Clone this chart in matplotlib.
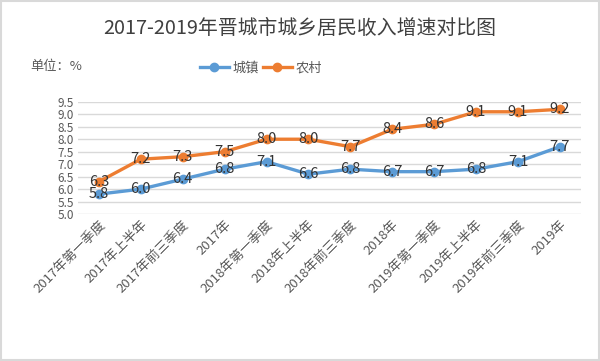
import matplotlib.pyplot as plt
from matplotlib.patches import Rectangle

plt.rcParams['font.family'] = ['Noto Sans CJK SC', 'DejaVu Sans']

periods = ['2017年第一季度', '2017年上半年', '2017年前三季度', '2017年',
           '2018年第一季度', '2018年上半年', '2018年前三季度', '2018年',
           '2019年第一季度', '2019年上半年', '2019年前三季度', '2019年']
urban = [5.8, 6.0, 6.4, 6.8, 7.1, 6.6, 6.8, 6.7, 6.7, 6.8, 7.1, 7.7]
rural = [6.3, 7.2, 7.3, 7.5, 8.0, 8.0, 7.7, 8.4, 8.6, 9.1, 9.1, 9.2]
yticks = [5.0, 5.5, 6.0, 6.5, 7.0, 7.5, 8.0, 8.5, 9.0, 9.5]

blue = '#5B9BD5'
orange = '#ED7D31'

fig = plt.figure(figsize=(6, 3.61), dpi=100)
ax = fig.add_axes([0.13, 0.407, 0.838, 0.311])

x = list(range(len(periods)))
ax.plot(x, urban, color=blue, lw=2.4, marker='o', ms=6, label='城镇', zorder=3)
ax.plot(x, rural, color=orange, lw=2.4, marker='o', ms=6, label='农村', zorder=3)

# data labels sit centred on the points, as in the original
for xi, v in zip(x, urban):
    ax.text(xi, v, f'{v:.1f}', ha='center', va='center', fontsize=10.5,
            color='#333333', zorder=4)
for xi, v in zip(x, rural):
    ax.text(xi, v, f'{v:.1f}', ha='center', va='center', fontsize=10.5,
            color='#333333', zorder=4)

ax.set_xlim(-0.5, len(periods) - 0.5)
ax.set_ylim(5.0, 9.5)
ax.set_yticks(yticks)
ax.set_yticklabels([f'{t:.1f}' for t in yticks], fontsize=8.5, color='#595959')
ax.set_xticks(x)
ax.set_xticklabels(periods, rotation=45, ha='right', rotation_mode='anchor',
                   fontsize=9.5, color='#595959')
ax.tick_params(length=0, pad=3)
ax.grid(axis='y', color='#D9D9D9', lw=1)
for s in ax.spines.values():
    s.set_visible(False)

fig.text(0.5, 0.922, '2017-2019年晋城市城乡居民收入增速对比图', ha='center',
         va='center', fontsize=14.3, color='#404040')
fig.text(0.05, 0.815, '单位：%', ha='left', va='center', fontsize=9.5,
         color='#595959')
fig.legend(loc='center', bbox_to_anchor=(0.435, 0.812), ncol=2, frameon=False,
           fontsize=9.5, handlelength=2.2, columnspacing=0.3, handletextpad=0.3,
           labelcolor='#595959')

fig.patches.append(Rectangle((0.002, 0.003), 0.996, 0.994, transform=fig.transFigure,
                             fill=False, edgecolor='#D9D9D9', lw=1.5))

fig.savefig('out.png', dpi=100)
